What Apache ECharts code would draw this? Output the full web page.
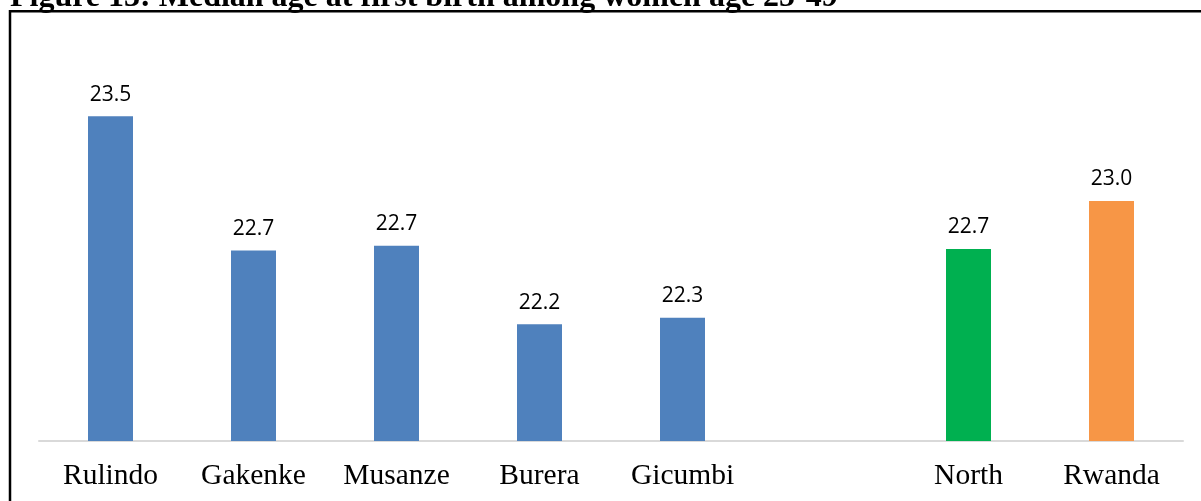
<!DOCTYPE html>
<html>
<head>
<meta charset="utf-8">
<script src="https://cdn.jsdelivr.net/npm/echarts@6/dist/echarts.min.js"></script>
<style>
  html, body { margin: 0; padding: 0; background: #fff; }
  #chart { width: 1201px; height: 501px; }
</style>
</head>
<body>
<div id="chart"></div>
<script>
// districts, then an empty slot, then the province and the country
var categories = ['Rulindo', 'Gakenke', 'Musanze', 'Burera', 'Gicumbi', '', 'North', 'Rwanda'];
var medianAge = [23.53, 22.69, 22.72, 22.23, 22.27, null, 22.70, 23.00];
var barColors = ['#4F81BD', '#4F81BD', '#4F81BD', '#4F81BD', '#4F81BD', '#4F81BD', '#00B050', '#F79646'];

var chart = echarts.init(document.getElementById('chart'));

var seriesData = [];
for (var i = 0; i < medianAge.length; i++) {
    seriesData.push({
        value: medianAge[i],
        itemStyle: { color: barColors[i] }
    });
}

var option = {
    animation: false,
    backgroundColor: '#fff',
    graphic: [
        {
            type: 'rect',
            shape: { x: 10, y: 11.3, width: 1300, height: 600 },
            style: { fill: 'none', stroke: '#000', lineWidth: 2.5 },
            z: 10
        },
        {
            type: 'text',
            left: 10,
            top: -18,
            style: {
                text: 'Figure 13: Median age at first birth among women age 25-49',
                font: 'bold 32px "Liberation Serif"',
                fill: '#000'
            },
            z: 10
        }
    ],
    grid: { left: 39, right: 18, top: 41, bottom: 60 },
    xAxis: {
        type: 'category',
        data: categories,
        axisLine: { lineStyle: { color: '#d9d9d9', width: 2 } },
        axisTick: { show: false },
        axisLabel: {
            color: '#000',
            fontFamily: 'Liberation Serif',
            fontSize: 29.5,
            margin: 20,
            interval: 0
        }
    },
    yAxis: {
        type: 'value',
        min: 21.5,
        max: 24,
        show: false,
        splitLine: { show: false }
    },
    series: [
        {
            type: 'bar',
            data: seriesData,
            barWidth: 45,
            label: {
                show: true,
                position: 'top',
                distance: 11,
                color: '#000',
                fontFamily: 'Open Sans',
                fontSize: 21,
                formatter: function (p) { return p.value.toFixed(1); }
            }
        }
    ]
};

chart.setOption(option);
</script>
</body>
</html>
